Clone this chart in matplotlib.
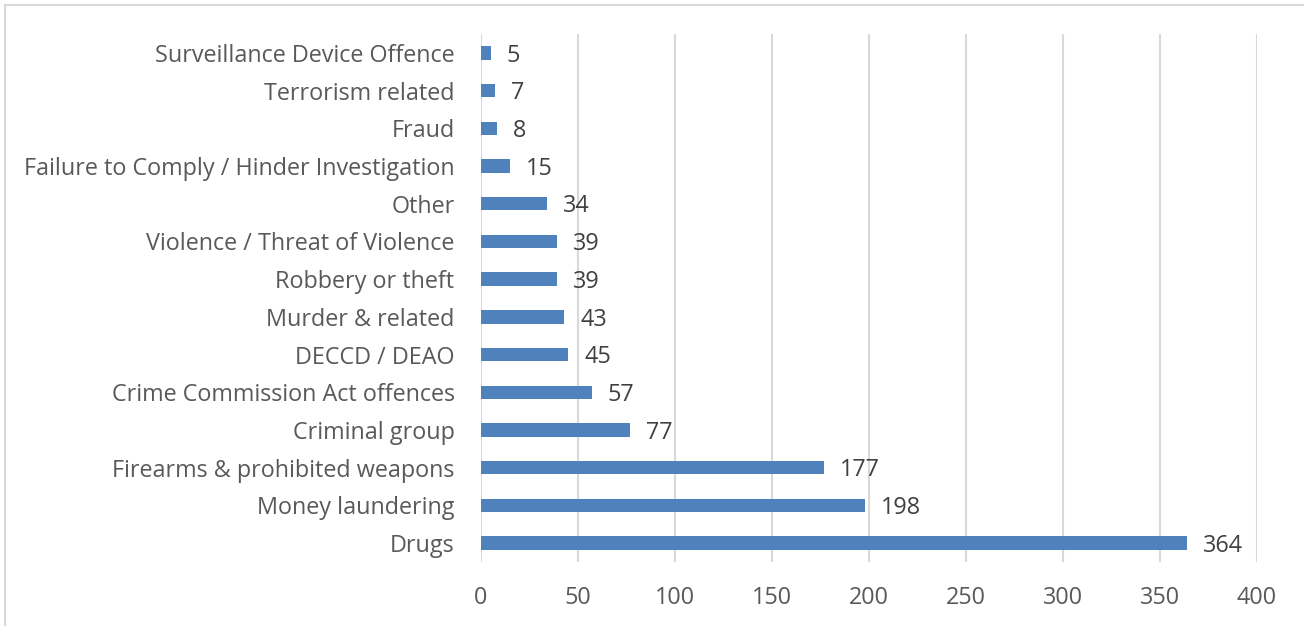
import matplotlib
matplotlib.use("Agg")
import matplotlib.pyplot as plt
from matplotlib.lines import Line2D

categories = ["Drugs", "Money laundering", "Firearms & prohibited weapons", "Criminal group",
              "Crime Commission Act offences", "DECCD / DEAO", "Murder & related",
              "Robbery or theft", "Violence / Threat of Violence", "Other",
              "Failure to Comply / Hinder Investigation", "Fraud", "Terrorism related",
              "Surveillance Device Offence"]
values = [364, 198, 177, 77, 57, 45, 43, 39, 39, 34, 15, 8, 7, 5]
xticks = [0, 50, 100, 150, 200, 250, 300, 350, 400]

plt.rcParams['font.family'] = ['Open Sans', 'DejaVu Sans']
txt = '#595959'
fs = 16.8
fig = plt.figure(figsize=(13.04, 6.26), dpi=100)
ax = fig.add_axes([481/1304, 1-562/626, (1256.7-481)/1304, (562-34)/626])

y = list(range(len(categories)))
ax.barh(y, values, height=0.355, color='#4F81BD', zorder=3)
for yi, v in zip(y, values):
    ax.annotate(str(v), (v, yi), xytext=(11.5, -2), textcoords='offset points',
                va='center', ha='left', fontsize=fs, color='#404040')

ax.set_xlim(0, 400)
ax.set_ylim(-0.5, len(categories) - 0.5)
ax.set_xticks(xticks)
ax.set_yticks(y)
ax.set_yticklabels(categories)
ax.tick_params(axis='both', length=0, labelsize=fs, labelcolor=txt)
ax.tick_params(axis='y', pad=19)
ax.tick_params(axis='x', pad=17)
ax.grid(axis='x', color='#D9D9D9', linewidth=1.5, zorder=0)
for s in ax.spines.values():
    s.set_visible(False)

fig.add_artist(Line2D([5/1304, 5/1304], [0, 1-5/626], color='#D9D9D9', lw=1.5, transform=fig.transFigure))
fig.add_artist(Line2D([5/1304, 1], [1-5/626, 1-5/626], color='#D9D9D9', lw=1.5, transform=fig.transFigure))

fig.savefig('out.png', dpi=100)
